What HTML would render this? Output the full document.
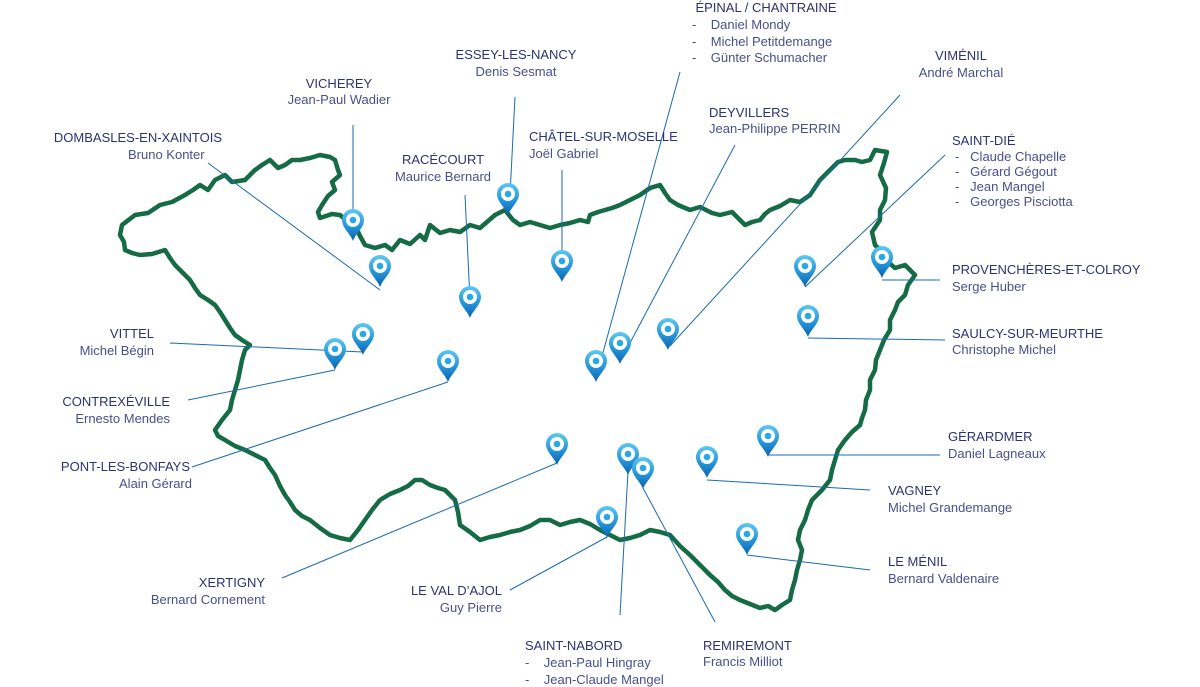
<!DOCTYPE html>
<html><head><meta charset="utf-8"><style>
html,body{margin:0;padding:0;background:#fff;}
svg{display:block}
text{font-family:"Liberation Sans",sans-serif;font-size:13px;}
.t{fill:#2d3272;}
.n{fill:#4a4f8c;}
</style></head><body>
<svg width="1200" height="687" viewBox="0 0 1200 687">
<defs>
<linearGradient id="g" x1="0" y1="0" x2="0" y2="1">
<stop offset="0" stop-color="#5cc8f2"/><stop offset="0.6" stop-color="#1f8fd6"/><stop offset="1" stop-color="#0d5fa8"/>
</linearGradient>
<g id="p">
<path d="M0,0 C-3,-8 -11,-13 -11,-21 A11,11 0 1 1 11,-21 C11,-13 3,-8 0,0Z" fill="url(#g)"/>
<circle cx="0" cy="-21" r="7" fill="#fff"/>
<circle cx="0" cy="-21" r="3.3" fill="#29a8e6"/>
</g>
</defs>
<polygon fill="none" stroke="#146b45" stroke-width="4.5" stroke-linejoin="round" points="122,225 135,215 148,213 160,205 172,202 185,195 193,190 200,185 208,190 215,180 225,175 232,182 245,180 255,170 262,165 270,160 278,168 285,165 292,160 300,160 310,158 320,155 330,157 335,160 338,170 340,175 332,182 335,190 328,196 322,205 318,212 320,218 332,214 340,215 348,222 355,225 360,236 365,245 375,248 385,245 392,250 400,240 410,244 420,235 425,240 430,225 440,233 450,230 460,232 470,225 480,228 495,215 505,210 513,220 520,225 530,222 540,225 550,228 560,225 570,223 580,220 588,222 590,215 598,212 605,210 612,208 620,205 630,200 640,195 650,188 660,185 665,193 670,200 678,205 690,210 700,207 712,213 720,215 732,212 745,225 752,222 760,220 765,214 770,210 780,206 790,200 800,202 810,195 820,180 830,170 838,162 845,160 855,160 862,162 870,160 875,150 887,152 884,163 880,175 886,188 885,200 880,210 880,220 872,232 875,245 880,250 885,255 888,262 895,268 905,265 915,275 908,285 905,295 898,302 895,310 890,320 890,330 884,340 880,350 876,360 875,370 870,380 870,390 866,400 865,410 862,418 860,425 852,432 845,440 838,450 835,460 832,470 830,480 822,490 812,500 808,510 805,520 800,530 798,540 802,550 800,560 797,570 795,580 792,590 790,600 782,605 775,610 768,606 760,608 750,604 740,600 732,596 725,590 718,582 710,575 705,570 700,565 695,560 690,555 680,546 670,535 660,532 650,530 640,535 630,538 620,540 610,535 600,530 590,524 580,520 570,522 560,525 550,520 540,520 530,526 520,530 510,532 500,535 490,537 480,540 470,532 460,525 458,512 455,500 450,495 445,490 438,488 430,485 422,480 415,480 408,486 400,490 390,494 380,500 372,510 365,520 358,530 350,540 340,538 330,535 320,528 310,520 302,516 295,510 290,502 285,495 280,486 275,475 270,468 265,460 255,455 245,450 235,446 225,440 218,436 215,430 222,420 230,410 232,400 235,390 238,380 240,370 242,360 245,350 250,345 242,340 235,335 230,328 225,320 220,312 215,305 208,300 200,295 195,288 190,280 182,272 175,265 170,258 165,250 152,254 140,255 132,253 125,250 124,242 120,235"/>
<g stroke="#1a6bb0" stroke-width="1" fill="none">
<line x1="208" y1="163" x2="380" y2="290"/>
<line x1="353" y1="125" x2="353" y2="215"/>
<line x1="515" y1="97" x2="510" y2="195"/>
<line x1="465" y1="195" x2="470" y2="300"/>
<line x1="562" y1="170" x2="562" y2="262"/>
<line x1="680" y1="72" x2="596" y2="378"/>
<line x1="735" y1="145" x2="622" y2="358"/>
<line x1="900" y1="95" x2="670" y2="346"/>
<line x1="945" y1="155" x2="805" y2="287"/>
<line x1="882" y1="280" x2="940" y2="280"/>
<line x1="808" y1="338" x2="945" y2="340"/>
<line x1="170" y1="343" x2="363" y2="352"/>
<line x1="188" y1="400" x2="335" y2="370"/>
<line x1="192" y1="467" x2="448" y2="382"/>
<line x1="282" y1="578" x2="557" y2="463"/>
<line x1="510" y1="590" x2="607" y2="537"/>
<line x1="620" y1="615" x2="628" y2="472"/>
<line x1="715" y1="622" x2="643" y2="488"/>
<line x1="940" y1="455" x2="768" y2="455"/>
<line x1="870" y1="490" x2="707" y2="480"/>
<line x1="870" y1="570" x2="747" y2="555"/>
</g>
<use href="#p" x="353" y="241"/><use href="#p" x="380" y="287"/><use href="#p" x="508" y="215"/>
<use href="#p" x="470" y="318"/><use href="#p" x="562" y="282"/><use href="#p" x="363" y="355"/>
<use href="#p" x="335" y="370"/><use href="#p" x="448" y="382"/><use href="#p" x="596" y="382"/>
<use href="#p" x="620" y="364"/><use href="#p" x="668" y="350"/><use href="#p" x="805" y="287"/>
<use href="#p" x="882" y="278"/><use href="#p" x="808" y="337"/><use href="#p" x="768" y="457"/>
<use href="#p" x="557" y="465"/><use href="#p" x="628" y="475"/><use href="#p" x="643" y="489"/>
<use href="#p" x="707" y="478"/><use href="#p" x="607" y="538"/><use href="#p" x="747" y="555"/>

<g text-anchor="middle">
<text x="766" y="12" class="t">ÉPINAL / CHANTRAINE</text>
<text x="516" y="59" class="t">ESSEY-LES-NANCY</text><text x="516" y="76" class="n">Denis Sesmat</text>
<text x="961" y="60" class="t">VIMÉNIL</text><text x="961" y="77" class="n">André Marchal</text>
<text x="339" y="88" class="t">VICHEREY</text><text x="339" y="104" class="n">Jean-Paul Wadier</text>
<text x="443" y="164" class="t">RACÉCOURT</text><text x="443" y="181" class="n">Maurice Bernard</text>
</g>
<text x="709" y="117" class="t">DEYVILLERS</text><text x="709" y="133" class="n">Jean-Philippe PERRIN</text>
<text x="222" y="142" class="t" text-anchor="end">DOMBASLES-EN-XAINTOIS</text><text x="128" y="159" class="n">Bruno Konter</text>
<text x="529" y="141" class="t">CHÂTEL-SUR-MOSELLE</text>
<text x="529" y="158" class="n">Joël Gabriel</text>
<text x="692" y="29" class="n">-&#160;&#160;&#160;&#160;Daniel Mondy</text>
<text x="692" y="46" class="n">-&#160;&#160;&#160;&#160;Michel Petitdemange</text>
<text x="692" y="62" class="n">-&#160;&#160;&#160;&#160;Günter Schumacher</text>
<text x="952" y="145" class="t">SAINT-DIÉ</text>
<text x="955" y="161" class="n">-&#160;&#160;&#160;Claude Chapelle</text>
<text x="955" y="176" class="n">-&#160;&#160;&#160;Gérard Gégout</text>
<text x="955" y="191" class="n">-&#160;&#160;&#160;Jean Mangel</text>
<text x="955" y="206" class="n">-&#160;&#160;&#160;Georges Pisciotta</text>
<text x="952" y="274" class="t">PROVENCHÈRES-ET-COLROY</text><text x="952" y="291" class="n">Serge Huber</text>
<text x="952" y="338" class="t">SAULCY-SUR-MEURTHE</text><text x="952" y="354" class="n">Christophe Michel</text>
<text x="948" y="441" class="t">GÉRARDMER</text><text x="948" y="458" class="n">Daniel Lagneaux</text>
<text x="888" y="495" class="t">VAGNEY</text><text x="888" y="512" class="n">Michel Grandemange</text>
<text x="888" y="566" class="t">LE MÉNIL</text><text x="888" y="583" class="n">Bernard Valdenaire</text>
<text x="703" y="650" class="t">REMIREMONT</text><text x="703" y="666" class="n">Francis Milliot</text>
<text x="525" y="650" class="t">SAINT-NABORD</text>
<text x="525" y="667" class="n">-&#160;&#160;&#160;&#160;Jean-Paul Hingray</text>
<text x="525" y="684" class="n">-&#160;&#160;&#160;&#160;Jean-Claude Mangel</text>
<g text-anchor="end">
<text x="154" y="338" class="t">VITTEL</text><text x="154" y="355" class="n">Michel Bégin</text>
<text x="170" y="406" class="t">CONTREXÉVILLE</text><text x="170" y="423" class="n">Ernesto Mendes</text>
<text x="190" y="471" class="t">PONT-LES-BONFAYS</text><text x="192" y="488" class="n">Alain Gérard</text>
<text x="265" y="587" class="t">XERTIGNY</text><text x="265" y="604" class="n">Bernard Cornement</text>
<text x="502" y="595" class="t">LE VAL D’AJOL</text><text x="502" y="612" class="n">Guy Pierre</text>
</g>
</svg>
</body></html>
